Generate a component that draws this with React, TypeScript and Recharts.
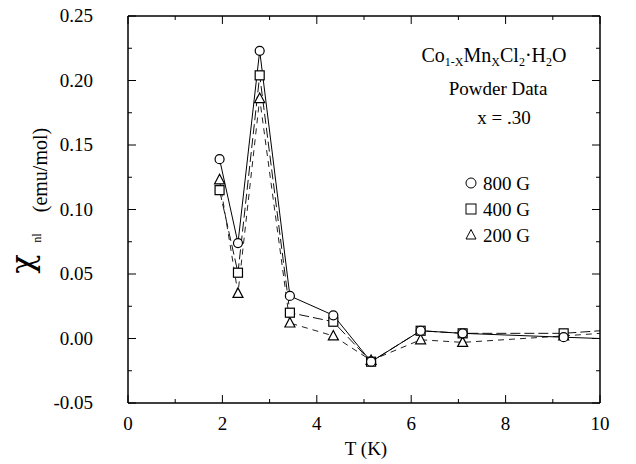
import { LineChart, Line, XAxis, YAxis } from "recharts";

const temps = [1.94, 2.33, 2.79, 3.43, 4.35, 5.15, 6.2, 7.09, 9.23, 10];
const chi800 = [0.139, 0.074, 0.223, 0.033, 0.018, -0.018, 0.006, 0.004, 0.001, 0.0];
const chi400 = [0.115, 0.051, 0.204, 0.02, 0.013, -0.018, 0.006, 0.004, 0.004, 0.006];
const chi200 = [0.123, 0.035, 0.186, 0.012, 0.002, -0.017, -0.001, -0.003, 0.002, 0.004];

const xTicks = [0, 1, 2, 3, 4, 5, 6, 7, 8, 9, 10];
const yTicks = [-0.05, -0.025, 0, 0.025, 0.05, 0.075, 0.1, 0.125, 0.15, 0.175, 0.2, 0.225, 0.25];
const fieldLabels = ["800 G", "400 G", "200 G"];

const FONT = "Liberation Serif";

const data = temps.map((t, i) => ({
  t,
  h800: chi800[i],
  h400: chi400[i],
  h200: chi200[i],
}));

const lastIdx = temps.length - 1;

const isMajorY = (v: number) => Math.abs(Math.round(v * 20) - v * 20) < 1e-6;

const txt = { fontFamily: FONT, fill: "#000" };

const BottomTick = (props: any) => {
  const { x, y, payload } = props;
  const major = payload.value % 2 === 0;
  return (
    <g>
      <line x1={x} y1={y} x2={x} y2={y - (major ? 8 : 4)} stroke="#000" />
      {major && (
        <text x={x} y={y + 27} textAnchor="middle" fontSize={19} style={txt}>
          {payload.value}
        </text>
      )}
    </g>
  );
};

const TopTick = (props: any) => {
  const { x, y, payload } = props;
  const major = payload.value % 2 === 0;
  return <line x1={x} y1={y} x2={x} y2={y + (major ? 8 : 4)} stroke="#000" />;
};

const LeftTick = (props: any) => {
  const { x, y, payload } = props;
  const major = isMajorY(payload.value);
  return (
    <g>
      <line x1={x} y1={y} x2={x + (major ? 8 : 4)} y2={y} stroke="#000" />
      {major && (
        <text x={x - 35} y={y + 6} textAnchor="end" fontSize={19} style={txt}>
          {payload.value.toFixed(2)}
        </text>
      )}
    </g>
  );
};

const RightTick = (props: any) => {
  const { x, y, payload } = props;
  const major = isMajorY(payload.value);
  return <line x1={x} y1={y} x2={x - (major ? 8 : 4)} y2={y} stroke="#000" />;
};

const circleDot = (p: any) =>
  p.index === lastIdx ? (
    <g key={p.index} />
  ) : (
    <circle key={p.index} cx={p.cx} cy={p.cy} r={4.5} fill="#fff" stroke="#000" strokeWidth={1.2} />
  );

const squareDot = (p: any) =>
  p.index === lastIdx ? (
    <g key={p.index} />
  ) : (
    <rect key={p.index} x={p.cx - 4.5} y={p.cy - 4.5} width={9} height={9} fill="#fff" stroke="#000" strokeWidth={1.2} />
  );

const triPath = (cx: number, cy: number) =>
  `M${cx},${cy - 5.5}L${cx - 5},${cy + 4}L${cx + 5},${cy + 4}Z`;

const triangleDot = (p: any) =>
  p.index === lastIdx ? (
    <g key={p.index} />
  ) : (
    <path key={p.index} d={triPath(p.cx, p.cy)} fill="#fff" stroke="#000" strokeWidth={1.2} />
  );

const legendSymbol = (i: number, x: number, y: number) => {
  if (i === 0) return <circle cx={x} cy={y} r={5} fill="none" stroke="#000" />;
  if (i === 1) return <rect x={x - 5} y={y - 5} width={10} height={10} fill="none" stroke="#000" />;
  return <path d={triPath(x, y)} fill="none" stroke="#000" />;
};

const axisLineStyle = { stroke: "#000", strokeWidth: 1.5 };

export default function App() {
  return (
    <div style={{ position: "absolute", left: 0, top: 0, width: 636, height: 464, background: "#fff" }}>
      <LineChart
        width={636}
        height={464}
        data={data}
        margin={{ top: 15, right: 35, bottom: 60, left: 127 }}
      >
        <XAxis
          dataKey="t"
          type="number"
          domain={[0, 10]}
          allowDataOverflow
          ticks={xTicks}
          interval={0}
          height={1}
          tickSize={0}
          tickMargin={0}
          tick={<BottomTick />}
          axisLine={axisLineStyle}
          tickLine={false}
        />
        <XAxis
          xAxisId="top"
          orientation="top"
          dataKey="t"
          type="number"
          domain={[0, 10]}
          allowDataOverflow
          ticks={xTicks}
          interval={0}
          height={1}
          tickSize={0}
          tickMargin={0}
          tick={<TopTick />}
          axisLine={axisLineStyle}
          tickLine={false}
        />
        <YAxis
          type="number"
          domain={[-0.05, 0.25]}
          allowDataOverflow
          ticks={yTicks}
          interval={0}
          width={1}
          tickSize={0}
          tickMargin={0}
          tick={<LeftTick />}
          axisLine={axisLineStyle}
          tickLine={false}
        />
        <YAxis
          yAxisId="r"
          orientation="right"
          type="number"
          domain={[-0.05, 0.25]}
          allowDataOverflow
          ticks={yTicks}
          interval={0}
          width={1}
          tickSize={0}
          tickMargin={0}
          tick={<RightTick />}
          axisLine={axisLineStyle}
          tickLine={false}
        />
        <Line
          dataKey="h200"
          stroke="#222"
          strokeWidth={1}
          strokeDasharray="6 5"
          dot={triangleDot}
          isAnimationActive={false}
        />
        <Line
          dataKey="h400"
          stroke="#111"
          strokeWidth={1}
          strokeDasharray="10 4"
          dot={squareDot}
          isAnimationActive={false}
        />
        <Line
          dataKey="h800"
          stroke="#000"
          strokeWidth={1}
          dot={circleDot}
          isAnimationActive={false}
        />
      </LineChart>
      <svg
        width={636}
        height={464}
        style={{ position: "absolute", left: 0, top: 0, pointerEvents: "none" }}
      >
        <text x={494} y={62} textAnchor="middle" fontSize={20} style={txt}>
          Co
          <tspan fontSize={12} dy={4}>1-X</tspan>
          <tspan dy={-4}>Mn</tspan>
          <tspan fontSize={12} dy={4}>X</tspan>
          <tspan dy={-4}>Cl</tspan>
          <tspan fontSize={12} dy={4}>2</tspan>
          <tspan dy={-4}>·H</tspan>
          <tspan fontSize={12} dy={4}>2</tspan>
          <tspan dy={-4}>O</tspan>
        </text>
        <text x={498} y={95} textAnchor="middle" fontSize={19} style={txt}>
          Powder Data
        </text>
        <text x={504} y={124} textAnchor="middle" fontSize={19} style={txt}>
          x = .30
        </text>
        {fieldLabels.map((lab, i) => (
          <g key={lab}>
            {legendSymbol(i, 471, 183 + i * 26)}
            <text x={483} y={190 + i * 26} fontSize={19} style={txt}>
              {lab}
            </text>
          </g>
        ))}
        <text x={366} y={455} textAnchor="middle" fontSize={19} style={txt}>
          T (K)
        </text>
        <text
          transform="translate(33 264) rotate(-90)"
          textAnchor="middle"
          fontSize={32}
          style={{ fontFamily: "DejaVu Serif", fill: "#000" }}
        >
          χ
        </text>
        <text
          transform="translate(41 238) rotate(-90)"
          textAnchor="middle"
          fontSize={12}
          style={txt}
        >
          nl
        </text>
        <text
          transform="translate(47 170) rotate(-90)"
          textAnchor="middle"
          fontSize={20}
          style={txt}
        >
          (emu/mol)
        </text>
      </svg>
    </div>
  );
}
